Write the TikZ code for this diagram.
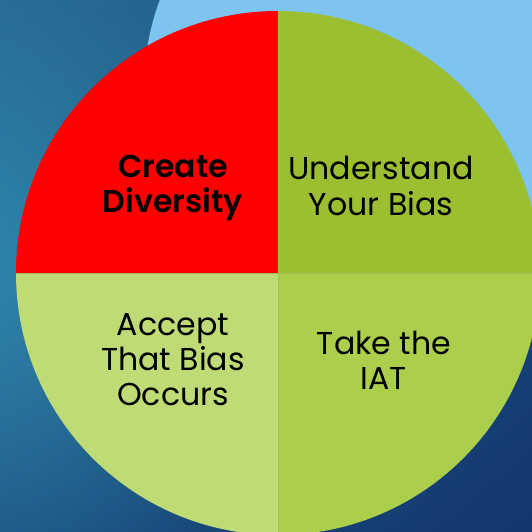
\documentclass[tikz,border=0pt]{standalone}
\usepackage{fontspec}
\setmainfont{Poppins}[BoldFont={Poppins SemiBold}]
\usepackage{xcolor}
\usetikzlibrary{fadings, shadings}
\definecolor{bglight}{HTML}{2F88AC}
\definecolor{bgtop}{HTML}{25648E}
\definecolor{bgdark}{HTML}{12376D}
\definecolor{skyblue}{HTML}{7DC4EE}
\definecolor{pieolive}{HTML}{9CBF32}
\definecolor{pielime}{HTML}{ABCF4B}
\definecolor{piepale}{HTML}{BEDB76}
\definecolor{pieline}{HTML}{9BC158}
\tikzfading[name=glowfade, inner color=transparent!0, outer color=transparent!100]

\begin{document}
\begin{tikzpicture}[x=0.02cm, y=0.02cm,
            slicetext/.style={align=center, inner sep=0pt, text=black, font=\fontsize{18}{20}\selectfont},
            slicebold/.style={slicetext, font=\fontsize{18}{20}\selectfont\bfseries}]
            \useasboundingbox (-278,-259) rectangle (254,273);
            \clip (-278,-259) rectangle (254,273);
            \shade[upper left=bgtop, lower right=bgdark, upper right=bgtop!60!bgdark, lower left=bgtop!50!bgdark] (-278,-259) rectangle (254,273);
            \fill[bglight, path fading=glowfade] (-318,10) circle (370);
            \fill[skyblue] (118,185) circle (252);
            \fill[red] (0,0) -- (180:262) arc (180:90:262) -- cycle;
            \fill[pieolive] (0,0) -- (90:262) arc (90:0:262) -- cycle;
            \fill[pielime] (0,0) -- (0:262) arc (0:-90:262) -- cycle;
            \fill[piepale] (0,0) -- (-90:262) arc (-90:-180:262) -- cycle;
            \draw[pieline, line width=0.3pt] (180:262) -- (0:262);
            \draw[pieline, line width=0.3pt] (0,0) -- (-90:262);
            \node[slicebold] (create) at (-105,85) {Create\\Diversity};
            \node[slicetext] (understand) at (103,87) {Understand\\Your Bias};
            \node[slicetext] (accept) at (-105,-87) {Accept\\That Bias\\Occurs};
            \node[slicetext] (take) at (106,-87) {Take the\\IAT};
        \end{tikzpicture}
\end{document}
